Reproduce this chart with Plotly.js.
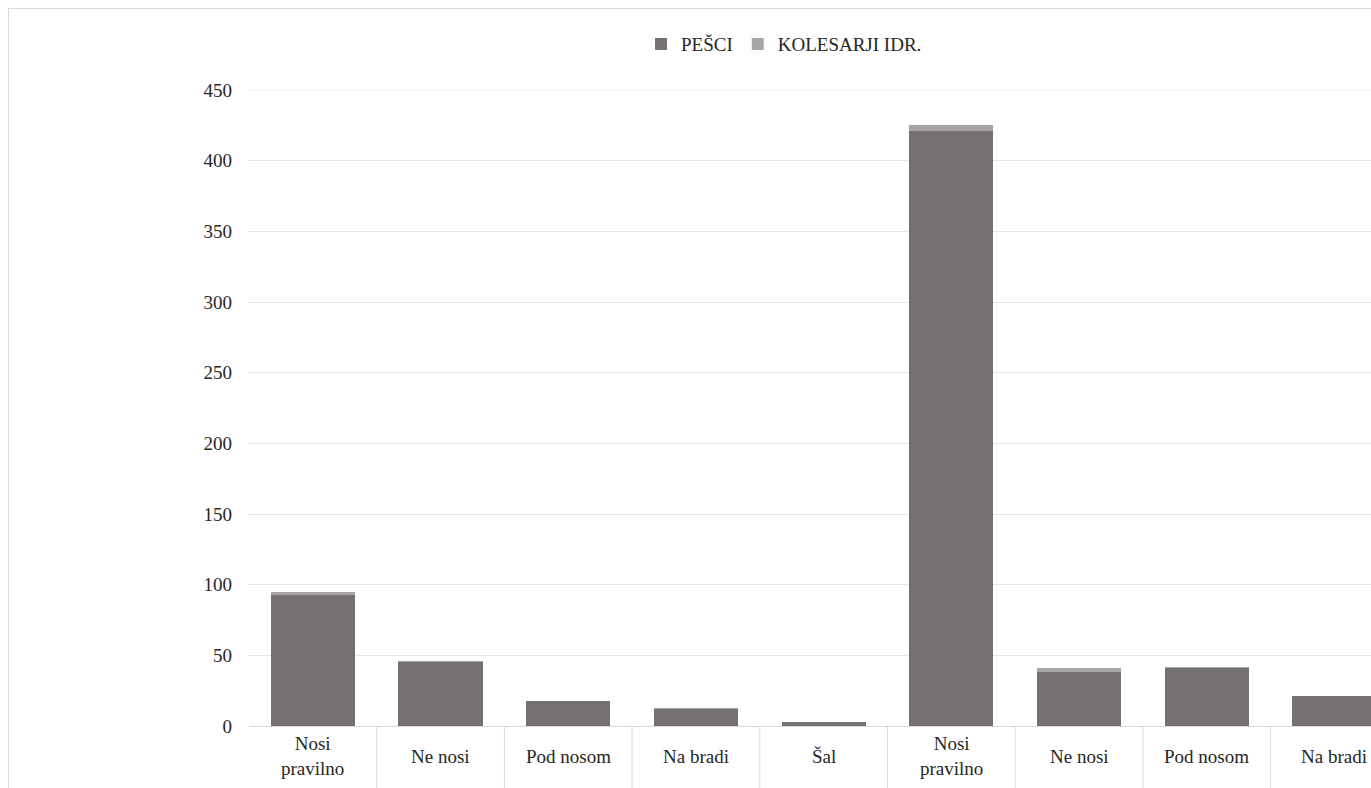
<!DOCTYPE html>
<html>
<head>
<meta charset="utf-8">
<script src="https://cdn.plot.ly/plotly-3.0.1.min.js"></script>
<style>
  html, body { margin: 0; padding: 0; overflow: hidden; background: #fff; width: 1371px; height: 788px; }
  #frame { position: absolute; left: 8px; top: 8px; width: 1552px; height: 800px; border: 1px solid #d9d9d9; box-sizing: border-box; }
  #chart { width: 1550px; height: 798px; }
</style>
</head>
<body>
<div id="frame"><div id="chart"></div></div>
<script>
const categories = ["Nosi<br>pravilno", "Ne nosi", "Pod nosom", "Na bradi", "Šal",
                    "Nosi<br>pravilno", "Ne nosi", "Pod nosom", "Na bradi"];
const pesci      = [93, 45, 18, 12, 3, 421, 38, 41, 21];
const kolesarji  = [2, 1, 0, 1, 0, 4, 3, 1, 0];
const yTicks     = [0, 50, 100, 150, 200, 250, 300, 350, 400, 450];

const idx = categories.map((_, i) => i);
const FONT = "Liberation Serif, Times New Roman, serif";
const TXT = "#262626";
const FS = 19;

const traces = [
  { type: "bar", name: "PEŠCI", x: idx, y: pesci, marker: { color: "#757171" }, width: 0.66 },
  { type: "bar", name: "KOLESARJI IDR.", x: idx, y: kolesarji, marker: { color: "#a6a6a6" }, width: 0.66 }
];

const shapes = idx.map(i => ({
  type: "line", xref: "x", yref: "paper",
  x0: i + 0.5, x1: i + 0.5, y0: 0, y1: -0.12,
  line: { color: "#d9d9d9", width: 1 }
}));
shapes.push({
  type: "line", xref: "paper", yref: "y", x0: 0, x1: 1, y0: 450, y1: 450,
  line: { color: "#e6e6e6", width: 1 }
});

const annotations = categories.map((c, i) => ({
  xref: "x", yref: "paper", x: i, y: 0, yshift: -30,
  xanchor: "center", yanchor: "middle",
  text: c, showarrow: false,
  font: { family: FONT, size: FS, color: TXT }
}));

const layout = {
  width: 1550, height: 798,
  margin: { l: 240, r: 33, t: 81, b: 81 },
  paper_bgcolor: "#fff", plot_bgcolor: "#fff",
  barmode: "stack",
  font: { family: FONT, size: FS, color: TXT },
  showlegend: true,
  legend: { orientation: "h", xref: "container", yref: "container",
            x: 0.5, xanchor: "center", y: 0.956, yanchor: "middle",
            font: { family: FONT, size: FS, color: TXT }, traceorder: "normal", itemwidth: 30 },
  xaxis: { range: [-0.5, 9.5], showticklabels: false, showgrid: false, zeroline: false,
           showline: true, linecolor: "#d9d9d9", linewidth: 1, ticks: "", fixedrange: true },
  yaxis: { range: [0, 450], tickvals: yTicks, ticktext: yTicks.map(String), showgrid: true,
           gridcolor: "#e6e6e6", gridwidth: 1, zeroline: false, showline: false, ticks: "",
           ticklabelstandoff: 16, tickfont: { family: FONT, size: FS, color: TXT } },
  shapes: shapes,
  annotations: annotations
};

Plotly.newPlot("chart", traces, layout, { displayModeBar: false, staticPlot: true });
</script>
</body>
</html>
